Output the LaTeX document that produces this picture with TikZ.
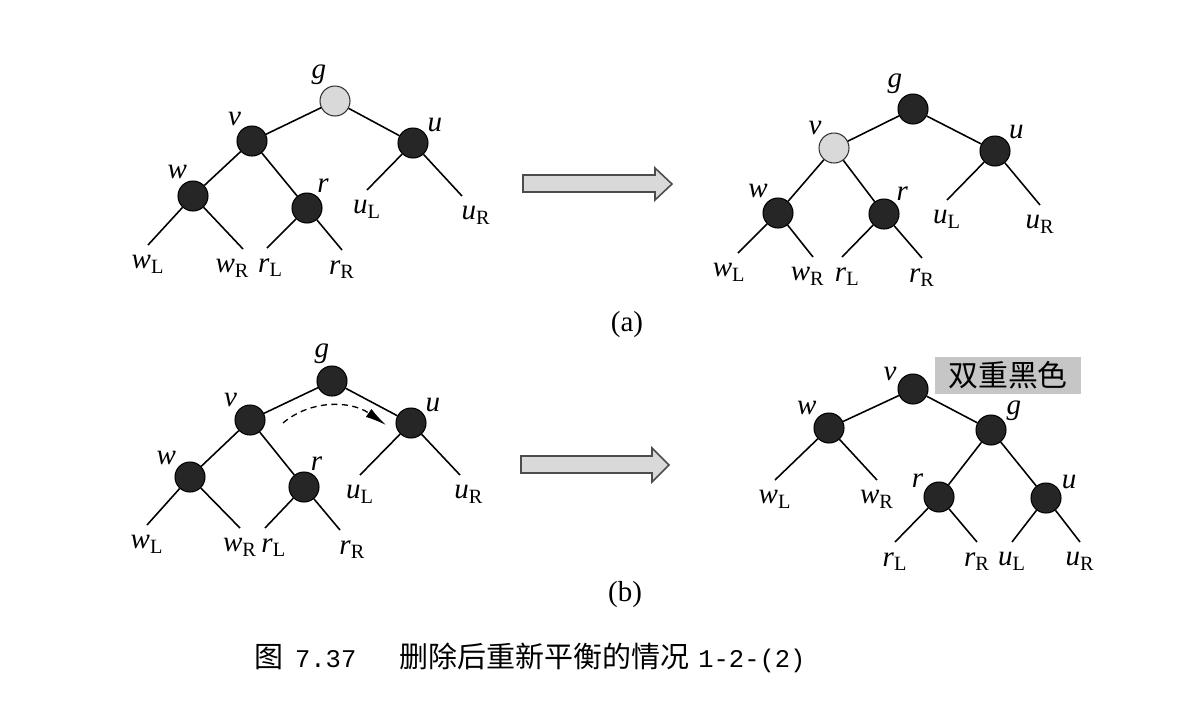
\documentclass[tikz,border=0pt]{standalone}
\usepackage{fontspec}
\setmainfont{Liberation Serif}
\newfontfamily\cjk{Noto Sans CJK SC}
\newfontfamily\capmono{Liberation Mono}
\usetikzlibrary{arrows.meta}

\newcommand{\lf}[2]{\textit{#1}\textsubscript{#2}}

\tikzset{
	bnode/.style={circle, draw=black, fill=black!85, line width=0.6pt, minimum size=0.6cm, inner sep=0pt},
	gnode/.style={bnode, fill=gray!30, draw=black!80},
	lab/.style={inner sep=1pt, font=\fontsize{16.5}{20}\selectfont\itshape},
	leaf/.style={inner sep=1.3pt, label distance=4.5pt, font=\fontsize{16.5}{20}\selectfont},
	edge/.style={line width=0.9pt},
	bigarrow/.style={draw=black!70, fill=gray!30, line width=0.9pt, line join=miter},
	tag/.style={fill=gray!45, minimum width=2.94cm, minimum height=0.74cm, inner sep=0pt, font=\fontsize{17}{20}\selectfont\cjk}
}

\begin{document}
\begin{tikzpicture}[x=0.02cm, y=-0.02cm, every node/.style={font=\fontsize{16.5}{20}\selectfont}]
	\useasboundingbox (0,0) rectangle (1178,704);

	% (a) before
	\node[gnode, label={[lab]116:g}] (g1) at (335,101) {};
	\node[bnode, label={[lab]125:v}] (v1) at (252,141) {};
	\node[bnode, label={[lab]36:u}] (u1) at (413,143) {};
	\node[bnode, label={[lab]105:w}] (w1) at (193,196) {};
	\node[bnode, label={[lab]58:r}] (r1) at (307,208) {};
	\coordinate[label={[leaf]below:\lf{w}{L}}] (w1L) at (148,245);
	\coordinate[label={[leaf,xshift=-6pt]below:\lf{w}{R}}] (w1R) at (243,249);
	\coordinate[label={[leaf,xshift=2pt]below:\lf{r}{L}}] (r1L) at (267,248);
	\coordinate[label={[leaf]below:\lf{r}{R}}] (r1R) at (342,250);
	\coordinate[label={[leaf]below:\lf{u}{L}}] (u1L) at (367,190);
	\coordinate[label={[leaf,xshift=8pt]below:\lf{u}{R}}] (u1R) at (462,196);
	\draw[edge] (g1) -- (v1) (g1) -- (u1) (v1) -- (w1) (v1) -- (r1)
		(w1) -- (w1L) (w1) -- (w1R) (r1) -- (r1L) (r1) -- (r1R) (u1) -- (u1L) (u1) -- (u1R);

	\draw[bigarrow] (523,175) -- (655,175) -- (655,168) -- (672,184) -- (655,200) -- (655,192) -- (523,192) -- cycle;

	% (a) after
	\node[bnode, label={[lab]124:g}] (g2) at (913,109) {};
	\node[gnode, label={[lab]132:v}] (v2) at (834,148) {};
	\node[bnode, label={[lab]40:u}] (u2) at (995,151) {};
	\node[bnode, label={[lab]122:w}] (w2) at (778,213) {};
	\node[bnode, label={[lab]47:r}] (r2) at (884,214) {};
	\coordinate[label={[leaf,xshift=-5pt]below:\lf{w}{L}}] (w2L) at (738,253);
	\coordinate[label={[leaf,xshift=-3pt]below:\lf{w}{R}}] (w2R) at (813,257);
	\coordinate[label={[leaf,xshift=3pt]below:\lf{r}{L}}] (r2L) at (842,257);
	\coordinate[label={[leaf]below:\lf{r}{R}}] (r2R) at (922,258);
	\coordinate[label={[leaf]below:\lf{u}{L}}] (u2L) at (947,200);
	\coordinate[label={[leaf]below:\lf{u}{R}}] (u2R) at (1040,205);
	\draw[edge] (g2) -- (v2) (g2) -- (u2) (v2) -- (w2) (v2) -- (r2)
		(w2) -- (w2L) (w2) -- (w2R) (r2) -- (r2L) (r2) -- (r2R) (u2) -- (u2L) (u2) -- (u2R);

	\node (capa) at (627,325) {(a)};

	% (b) before
	\node[bnode, label={[lab]93:g}] (g3) at (332,381) {};
	\node[bnode, label={[lab]135:v}] (v3) at (250,420) {};
	\node[bnode, label={[lab]37:u}] (u3) at (411,423) {};
	\node[bnode, label={[lab]140:w}] (w3) at (190,477) {};
	\node[bnode, label={[lab]72:r}] (r3) at (304,487) {};
	\coordinate[label={[leaf]below:\lf{w}{L}}] (w3L) at (147,525);
	\coordinate[label={[leaf]below:\lf{w}{R}}] (w3R) at (240,528);
	\coordinate[label={[leaf,xshift=5pt]below:\lf{r}{L}}] (r3L) at (265,528);
	\coordinate[label={[leaf,xshift=7pt]below:\lf{r}{R}}] (r3R) at (340,530);
	\coordinate[label={[leaf]below:\lf{u}{L}}] (u3L) at (360,475);
	\coordinate[label={[leaf,xshift=5pt]below:\lf{u}{R}}] (u3R) at (460,475);
	\draw[edge] (g3) -- (v3) (g3) -- (u3) (v3) -- (w3) (v3) -- (r3)
		(w3) -- (w3L) (w3) -- (w3R) (r3) -- (r3L) (r3) -- (r3R) (u3) -- (u3L) (u3) -- (u3R);
	\coordinate (mv1) at (283,423);
	\coordinate (mv2) at (386,425);
	\draw[line width=0.75pt, dash pattern=on 3.5pt off 2.5pt, -{Latex[length=12pt,width=5.5pt]}]
		(mv1) .. controls (310,400) and (350,400) .. (mv2);

	\draw[bigarrow] (521,456) -- (652,456) -- (652,448) -- (669,465) -- (652,482) -- (652,473) -- (521,473) -- cycle;

	% (b) after
	\node[bnode, label={[lab]157:v}] (v4) at (913,389) {};
	\node[bnode, label={[lab]132:w}] (w4) at (829,428) {};
	\node[bnode, label={[lab]29:g}] (g4) at (991,430) {};
	\node[bnode, label={[lab]153:r}] (r4) at (939,497) {};
	\node[bnode, label={[lab]28:u}] (u4) at (1046,498) {};
	\coordinate[label={[leaf]below:\lf{w}{L}}] (w4L) at (775,480);
	\coordinate[label={[leaf]below:\lf{w}{R}}] (w4R) at (877,480);
	\coordinate[label={[leaf]below:\lf{r}{L}}] (r4L) at (895,542);
	\coordinate[label={[leaf]below:\lf{r}{R}}] (r4R) at (977,542);
	\coordinate[label={[leaf]below:\lf{u}{L}}] (u4L) at (1012,542);
	\coordinate[label={[leaf]below:\lf{u}{R}}] (u4R) at (1080,542);
	\draw[edge] (v4) -- (w4) (v4) -- (g4) (w4) -- (w4L) (w4) -- (w4R)
		(g4) -- (r4) (g4) -- (u4) (r4) -- (r4L) (r4) -- (r4R) (u4) -- (u4L) (u4) -- (u4R);
	\node[tag] (dblk) at (1008,375) {双重黑色};

	\node (capb) at (625,595) {(b)};

	\node[font=\fontsize{16.5}{20}\selectfont\cjk] (fig) at (530,658)
		{图\hspace{0.4em}{\capmono\fontsize{14.5}{18}\selectfont 7.37}\hspace{1.5em}删除后重新平衡的情况\hspace{0.3em}{\capmono\fontsize{14.5}{18}\selectfont 1-2-(2)}};
\end{tikzpicture}
\end{document}
